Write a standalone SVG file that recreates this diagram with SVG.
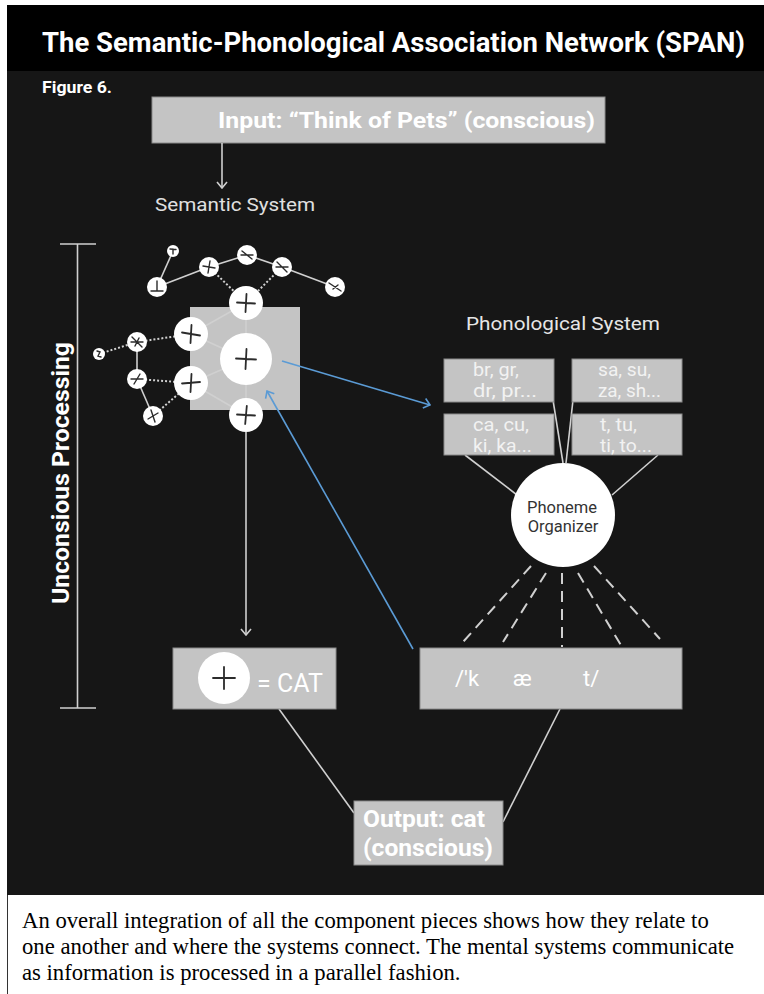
<svg xmlns="http://www.w3.org/2000/svg" width="764" height="994" viewBox="0 0 764 994">
<style>
.sans{font-family:Roboto,"Liberation Sans",sans-serif}
.box{fill:#c4c4c4;stroke:#8a8a8a;stroke-width:1}
.wt{fill:#ffffff}
.ph{fill:#f2f2f2;font-size:18px}
.ln{stroke:#d0d0d0;stroke-width:1.6;fill:none}
.dot{stroke:#d0d0d0;stroke-width:2;stroke-dasharray:2 2;fill:none}
.dash{stroke:#d0d0d0;stroke-width:2;stroke-dasharray:11 7;fill:none}
.blue{stroke:#5b9bd5;stroke-width:1.6;fill:none}
.nd{fill:#ffffff}
.mk{stroke:#2b2b2b;stroke-width:1.8;fill:none;stroke-linecap:round}
.mks{stroke:#2b2b2b;stroke-width:1.4;fill:none;stroke-linecap:round}
</style>
<defs>
<marker id="ag" viewBox="0 0 8 12" refX="7" refY="6" markerWidth="8" markerHeight="12" markerUnits="userSpaceOnUse" orient="auto">
<polyline points="1,1 7,6 1,11" fill="none" stroke="#d0d0d0" stroke-width="1.6"/>
</marker>
<marker id="ab" viewBox="0 0 8 12" refX="7" refY="6" markerWidth="8" markerHeight="12" markerUnits="userSpaceOnUse" orient="auto">
<polyline points="1,1 7,6 1,11" fill="none" stroke="#5b9bd5" stroke-width="1.6"/>
</marker>
</defs>

<rect x="0" y="0" width="764" height="994" fill="#ffffff"/>
<rect x="7" y="5" width="757" height="890" fill="#161616"/>
<rect x="7" y="5" width="757" height="66" fill="#000000"/>

<g id="title">
<text class="sans" x="42" y="52" font-size="28" font-weight="bold" fill="#ffffff" textLength="703" lengthAdjust="spacingAndGlyphs">The Semantic-Phonological Association Network (SPAN)</text>
<text class="sans" x="42" y="93" font-size="16.5" font-weight="bold" fill="#ffffff" textLength="70" lengthAdjust="spacingAndGlyphs">Figure 6.</text>
</g>

<g id="input">
<rect class="box" x="152" y="97" width="453" height="46"/>
<text class="sans wt" x="218" y="128" font-size="22" font-weight="bold" textLength="377" lengthAdjust="spacingAndGlyphs">Input: “Think of Pets” (conscious)</text>
</g>

<g id="semantic-label">
<text class="sans" x="155" y="211" font-size="19" fill="#e0e0e0" textLength="160" lengthAdjust="spacingAndGlyphs">Semantic System</text>
</g>

<g id="unconscious">
<line class="ln" x1="77.5" y1="244" x2="77.5" y2="708"/>
<line class="ln" x1="60" y1="244" x2="96" y2="244"/>
<line class="ln" x1="60" y1="708" x2="96" y2="708"/>
<text class="sans" transform="translate(69,604) rotate(-90)" x="0" y="0" font-size="23" font-weight="bold" fill="#ffffff" textLength="262" lengthAdjust="spacingAndGlyphs">Unconsious Processing</text>
</g>

<g id="semantic-square">
<rect x="190" y="307" width="110" height="103" fill="#c4c4c4"/>
</g>

<g id="connectors">
<line class="ln" x1="173" y1="251" x2="157" y2="287"/>
<line class="ln" x1="157" y1="287" x2="209" y2="267"/>
<line class="ln" x1="209" y1="267" x2="247" y2="255"/>
<line class="ln" x1="247" y1="255" x2="282" y2="267"/>
<line class="ln" x1="282" y1="267" x2="335" y2="287"/>
<line class="ln" x1="246" y1="303" x2="246" y2="359"/>
<line class="ln" x1="246" y1="359" x2="246" y2="415"/>
<line class="ln" x1="191" y1="334" x2="246" y2="359"/>
<line class="ln" x1="191" y1="383" x2="246" y2="359"/>
<line class="ln" x1="246" y1="303" x2="191" y2="334"/>
<line class="ln" x1="191" y1="383" x2="246" y2="415"/>
<line class="ln" x1="137" y1="342" x2="137" y2="379"/>
<line class="ln" x1="137" y1="379" x2="153" y2="416"/>
<line class="dot" x1="209" y1="267" x2="246" y2="303"/>
<line class="dot" x1="282" y1="267" x2="246" y2="303"/>
<line class="dot" x1="191" y1="334" x2="137" y2="342"/>
<line class="dot" x1="191" y1="383" x2="137" y2="379"/>
<line class="dot" x1="191" y1="383" x2="153" y2="416"/>
<line class="dot" x1="99" y1="354" x2="137" y2="342"/>
<line class="ln" x1="222" y1="143" x2="222" y2="188" marker-end="url(#ag)"/>
<line class="ln" x1="246" y1="432" x2="246" y2="635" marker-end="url(#ag)"/>
<line class="blue" x1="282" y1="361" x2="430" y2="405" marker-end="url(#ab)"/>
<line class="blue" x1="413" y1="649" x2="267" y2="391" marker-end="url(#ab)"/>
<line class="ln" x1="553" y1="400" x2="563" y2="463"/>
<line class="ln" x1="573" y1="400" x2="566" y2="463"/>
<line class="ln" x1="465" y1="455" x2="517" y2="495"/>
<line class="ln" x1="658" y1="455" x2="612" y2="495"/>
<line class="dash" x1="531" y1="566" x2="463" y2="642"/>
<line class="dash" x1="546" y1="573" x2="503" y2="642"/>
<line class="dash" x1="562" y1="573" x2="562" y2="647"/>
<line class="dash" x1="578" y1="573" x2="622" y2="647"/>
<line class="dash" x1="594" y1="566" x2="660" y2="639"/>
<line class="ln" x1="279" y1="709" x2="354" y2="813"/>
<line class="ln" x1="560" y1="709" x2="503" y2="822"/>
</g>

<g id="semantic-nodes">
<g id="n-top"><circle class="nd" cx="246" cy="303" r="17"/><path class="mk" d="M237,302.5 L255,303.5 M246.5,294 L245.5,312"/></g>
<g id="n-center"><circle class="nd" cx="246" cy="359" r="26"/><path class="mk" d="M236,358.5 L256,359.5 M246.5,349 L245.5,369"/></g>
<g id="n-bottom"><circle class="nd" cx="246" cy="415" r="17"/><path class="mk" d="M237,414.5 L255,415.5 M246.8,406 L245.2,424"/></g>
<g id="n-lu"><circle class="nd" cx="191" cy="334" r="17"/><path class="mk" d="M182,332.5 L200,335.5 M191.5,325 L190.5,343"/></g>
<g id="n-ll"><circle class="nd" cx="191" cy="383" r="17"/><path class="mk" d="M182,383.5 L200,382 M191.5,374 L190.5,392"/></g>
<g id="s1"><circle class="nd" cx="173" cy="251" r="6"/><path class="mks" d="M170,249 L176,249.5 M173,249 L173,254"/></g>
<g id="s2"><circle class="nd" cx="157" cy="287" r="10"/><path class="mks" d="M151,291 L163,291 M157,281 L157,291"/></g>
<g id="s3"><circle class="nd" cx="209" cy="267" r="10"/><path class="mks" d="M203,266 L215,268 M210,261 L208,273"/></g>
<g id="s4"><circle class="nd" cx="247" cy="255" r="10"/><path class="mks" d="M241,255 L253,255 M242,251 L252,259"/></g>
<g id="s5"><circle class="nd" cx="282" cy="267" r="10"/><path class="mks" d="M277,262 L287,272 M276,267 L288,267"/></g>
<g id="s6"><circle class="nd" cx="335" cy="287" r="10"/><path class="mks" d="M329,283 L341,291 M333,289 L338,285"/></g>
<g id="s7"><circle class="nd" cx="137" cy="342" r="10"/><path class="mks" d="M132,337 L142,347 M131,342 L143,342 M139,338 L135,346"/></g>
<g id="s8"><circle class="nd" cx="137" cy="379" r="10"/><path class="mks" d="M131,379 L143,379 M140,374 L134,384"/></g>
<g id="s9"><circle class="nd" cx="153" cy="416" r="10"/><path class="mks" d="M148,419 L158,413 M151,410 L155,422"/></g>
<g id="s10"><circle class="nd" cx="99" cy="354" r="6"/><path class="mks" d="M97,351 L100,352 L98,356 L101,357"/></g>
</g>

<g id="phonological-label">
<text class="sans" x="466" y="330" font-size="18" fill="#e6e6e6" textLength="194" lengthAdjust="spacingAndGlyphs">Phonological System</text>
</g>

<g id="ph-br">
<rect class="box" x="444" y="359" width="110" height="43"/>
<text class="sans ph" x="473" y="376" textLength="46" lengthAdjust="spacingAndGlyphs">br, gr,</text>
<text class="sans ph" x="473" y="397" textLength="64" lengthAdjust="spacingAndGlyphs">dr, pr...</text>
</g>
<g id="ph-sa">
<rect class="box" x="572" y="359" width="110" height="43"/>
<text class="sans ph" x="598" y="376" textLength="53" lengthAdjust="spacingAndGlyphs">sa, su,</text>
<text class="sans ph" x="598" y="397" textLength="63" lengthAdjust="spacingAndGlyphs">za, sh...</text>
</g>
<g id="ph-ca">
<rect class="box" x="444" y="414" width="110" height="41"/>
<text class="sans ph" x="473" y="431" textLength="56" lengthAdjust="spacingAndGlyphs">ca, cu,</text>
<text class="sans ph" x="473" y="452" textLength="59" lengthAdjust="spacingAndGlyphs">ki, ka...</text>
</g>
<g id="ph-t">
<rect class="box" x="572" y="414" width="110" height="41"/>
<text class="sans ph" x="600" y="431" textLength="37" lengthAdjust="spacingAndGlyphs">t, tu,</text>
<text class="sans ph" x="600" y="452" textLength="52" lengthAdjust="spacingAndGlyphs">ti, to...</text>
</g>

<g id="phoneme-organizer">
<circle cx="563" cy="515" r="52" fill="#ffffff"/>
<text class="sans" x="562" y="513" font-size="16.5" fill="#333333" text-anchor="middle">Phoneme</text>
<text class="sans" x="563" y="532" font-size="16.5" fill="#333333" text-anchor="middle">Organizer</text>
</g>

<g id="cat-box">
<rect class="box" x="173" y="648" width="163" height="61"/>
<circle cx="224" cy="678" r="26" fill="#ffffff"/>
<path class="mk" d="M213,678 L235,678 M224,667 L224,689"/>
<text class="sans wt" x="257" y="692" font-size="25">= CAT</text>
</g>

<g id="ipa-box">
<rect class="box" x="420" y="648" width="262" height="61"/>
<text class="sans wt" x="455" y="686" font-size="22">/'k</text>
<text class="sans wt" x="513" y="686" font-size="22">æ</text>
<text class="sans wt" x="583" y="686" font-size="22">t/</text>
</g>

<g id="output">
<rect class="box" x="354" y="801" width="149" height="64"/>
<text class="sans wt" x="363" y="827" font-size="23.5" font-weight="bold" textLength="122" lengthAdjust="spacingAndGlyphs">Output: cat</text>
<text class="sans wt" x="363" y="856" font-size="23.5" font-weight="bold" textLength="130" lengthAdjust="spacingAndGlyphs">(conscious)</text>
</g>

<g id="caption">
<line x1="7.5" y1="895" x2="7.5" y2="994" stroke="#333333" stroke-width="1"/>
<text font-family="'Liberation Serif','Times New Roman',serif" font-size="22.7" fill="#000000">
<tspan x="22" y="928">An overall integration of all the component pieces shows how they relate to</tspan>
<tspan x="22" y="954">one another and where the systems connect. The mental systems communicate</tspan>
<tspan x="22" y="980">as information is processed in a parallel fashion.</tspan>
</text>
</g>
</svg>
